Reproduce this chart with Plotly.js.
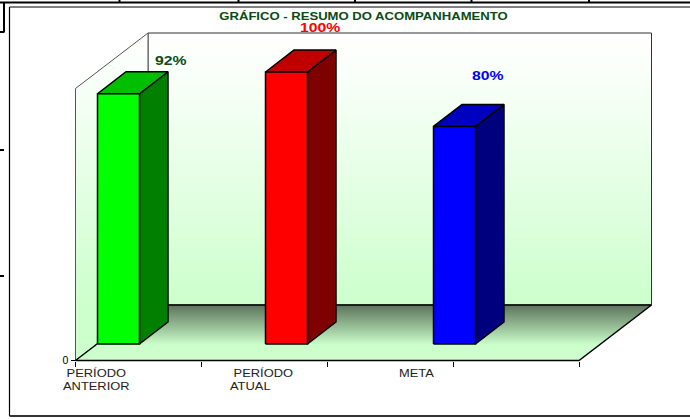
<!DOCTYPE html>
<html><head><meta charset="utf-8">
<script src="https://cdn.plot.ly/plotly-3.0.1.min.js"></script>
<style>
html,body{margin:0;padding:0;background:#fff;overflow:hidden}
#c{width:690px;height:419px}
.annotation-text,.gtitle{transform-box:fill-box}
.annotation-text{transform-origin:left center;transform:scaleX(1.29)}
.gtitle{transform-origin:center;transform:scaleX(1.31)}
</style></head><body><div id="c"></div>
<script>
const categories = ["\u00a0PERÍODO<br>ANTERIOR", "\u00a0PERÍODO<br>ATUAL", "META"];
const values = [92, 100, 80];
const valueLabels = ["92%", "100%", "80%"];
const frontColors = ["#00ff00", "#ff0000", "#0000ff"];
const topColors = ["#00bf00", "#bf0000", "#0000bf"];
const sideColors = ["#007f00", "#7f0000", "#00007f"];
const labelColors = ["#0b4a14", "#ff0000", "#0000ff"];
const axisTicks = [0, 1, 2, 3, 4];

// Scale: 1 x-unit = one category slot, y-unit = percent
const PXX = 125.875, PXY = 2.72;
const dx = p => p / PXX, dy = p => p / PXY;
const WALL = 100, DX = dx(72.5), DY = dy(55.5);
const BASE = dy(16.5), BW = dx(42), BDX = dx(28.5), BDY = dy(22);
const STEP = dx(168), START = dx(22);

const poly = (xs, ys, fill, line, extra) => Object.assign({
  x: xs, y: ys, mode: "lines", type: "scatter", fill: "toself", fillcolor: fill,
  line: line, hoverinfo: "skip", showlegend: false
}, extra || {});
const k = {color: "#000", width: 1.5};
const traces = [];
const n = axisTicks[axisTicks.length - 1];
const wallScale = [[0, "#ccffcc"], [0.45, "#e4ffe4"], [0.78, "#f6fff6"], [1, "#ffffff"]];
// back wall
traces.push(poly([DX, DX + n, DX + n, DX, DX], [DY, DY, DY + WALL, DY + WALL, DY], "#fff",
  {color: "#333", width: 1}, {fillgradient: {type: "vertical", colorscale: wallScale, start: DY, stop: DY + WALL}}));
// left wall
traces.push(poly([0, DX, DX, 0, 0], [0, DY, DY + WALL, WALL, 0], "#fff",
  {color: "#555", width: 1}, {fillgradient: {type: "vertical", colorscale: wallScale, start: DY, stop: DY + WALL}}));
// floor
traces.push(poly([0, n, n + DX, DX, 0], [0, 0, DY, DY, 0], "#ccffcc", k,
  {fillgradient: {type: "vertical", start: 0, stop: DY, colorscale: [[0, "#ccffcc"], [0.28, "#ccffcc"], [0.6, "#98c098"], [1, "#5c735c"]]}}));
// bars
values.forEach((v, i) => {
  const l = START + i * STEP, r = l + BW, t = BASE + v;
  traces.push(poly([r, r + BDX, r + BDX, r, r], [BASE, BASE + BDY, t + BDY, t, BASE], sideColors[i], k));
  traces.push(poly([l, r, r + BDX, l + BDX, l], [t, t, t + BDY, t + BDY, t], topColors[i], k));
  traces.push(poly([l, r, r, l, l], [BASE, BASE, t, t, BASE], frontColors[i], k));
});

const labelOffsets = [[dx(35), dy(33)], [dx(12.5), dy(44.5)], [dx(16.5), dy(50.5)]]; // left edge of value label relative to bar centre
const ann = values.map((v, i) => ({
  x: START + i * STEP + BW / 2 + labelOffsets[i][0], y: BASE + v + labelOffsets[i][1],
  xref: "x", yref: "y", xanchor: "left", text: "<b>" + valueLabels[i] + "</b>", showarrow: false, borderpad: 0,
  font: {family: "Liberation Sans", size: 12.2, color: labelColors[i]}
}));
const catX = [dx(-14), dx(153), dx(322.5)];
categories.forEach((c, i) => ann.push({
  x: catX[i], y: dy(-6.5), xref: "x", yref: "y", xanchor: "left", yanchor: "top", align: "left",
  text: c, showarrow: false, borderpad: 0,
  font: {family: "Liberation Sans", size: 10, color: "#222"}
}));

const seg = (x0, y0, x1, y1, w, c) => ({type: "line", xref: "paper", yref: "paper", x0: x0 / 690, x1: x1 / 690,
  y0: 1 - y0 / 419, y1: 1 - y1 / 419, line: {color: c || "#000", width: w}});
const shapes = [
  seg(0, 2.5, 690, 2.5, 2), seg(119.5, 0, 119.5, 2, 2), seg(238.5, 0, 238.5, 2, 2),
  seg(355, 0, 355, 2, 2), seg(471.5, 0, 471.5, 2, 2), seg(589, 0, 589, 2, 2),
  seg(4, 2, 4, 32.5, 2), seg(0, 32, 4, 32, 2), seg(0, 150, 4, 150, 2), seg(0, 276, 4, 276, 2),
  seg(9.5, 7, 690, 7, 1), seg(9.5, 7, 9.5, 416, 1.2), seg(9.5, 416, 690, 416, 2, "#333")
];

Plotly.newPlot("c", traces, {
  width: 690, height: 419, margin: {l: 0, r: 0, t: 0, b: 0}, showlegend: false,
  paper_bgcolor: "#fff", plot_bgcolor: "#fff",
  title: {text: "<b>GRÁFICO - RESUMO DO ACOMPANHAMENTO</b>", x: 363.5 / 690, xanchor: "center",
    y: 1 - 16.5 / 419, yanchor: "middle", font: {family: "Liberation Sans", size: 10, color: "#0b4a14"}},
  xaxis: {range: [-75.5 / PXX, 614.5 / PXX], domain: [0, 1], anchor: "free", position: 58.5 / 419,
    tickmode: "array", tickvals: axisTicks, showticklabels: false, ticks: "outside", ticklen: 5,
    tickcolor: "#000", tickwidth: 1, showgrid: false, zeroline: false, showline: false, fixedrange: true},
  yaxis: {range: [-58.5 / PXY, 360.5 / PXY], domain: [0, 1], anchor: "free", position: 75.5 / 690,
    tickmode: "array", tickvals: [0], ticktext: ["0"], ticks: "outside", ticklen: 5, tickcolor: "#000",
    tickfont: {family: "Liberation Sans", size: 10.5, color: "#000"}, showgrid: false, zeroline: false,
    showline: false, fixedrange: true},
  annotations: ann, shapes: shapes
}, {displayModeBar: false, staticPlot: true});
</script></body></html>
